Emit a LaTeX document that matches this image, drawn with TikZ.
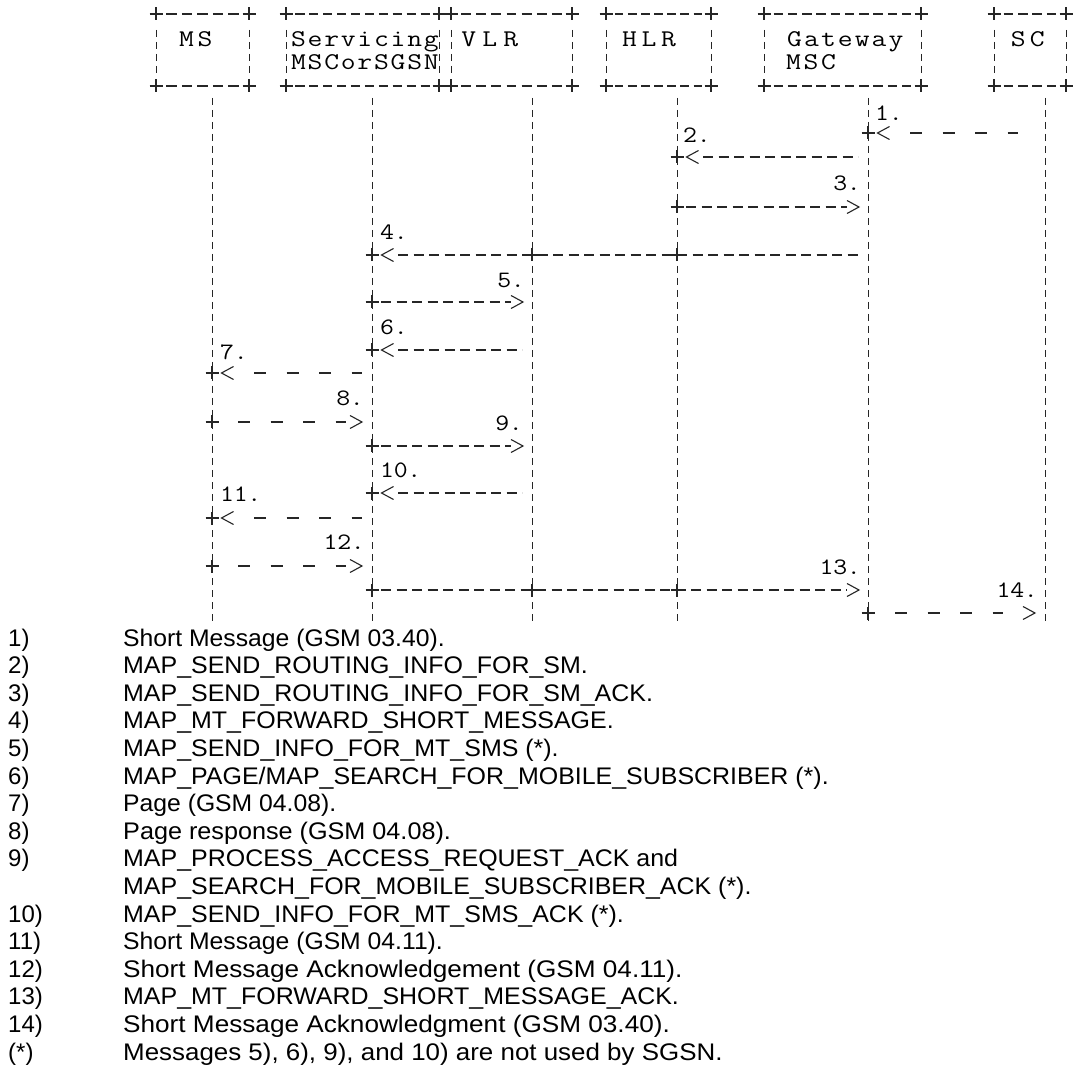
\documentclass[tikz,border=0pt]{standalone}
\usepackage{fontspec}
\setmainfont{Liberation Sans}
\usetikzlibrary{calc}

\makeatletter
\newcommand\spaced[3]{\@tfor\spc@c:=#3\do{\makebox[#1][c]{\scalebox{#2}[1]{\spc@c}}}}
\makeatother

\tikzset{
  ink/.style={draw=black!85, line width=1.1pt},
  life/.style={ink, line width=1.0pt, dash pattern=on 7pt off 5pt},
  hdash/.style={ink, dash pattern=on 10pt off 5.5pt},
  sdash/.style={ink, dash pattern=on 12pt off 20.5pt},
  plusmark/.pic={\draw[ink] (-6.5,0)--(6.5,0) (0,-6.5)--(0,6.5);},
  ltip/.pic={\draw[ink] (12,-6.5)--(0,0)--(12,6.5);},
  rtip/.pic={\draw[ink] (-12,-6.5)--(0,0)--(-12,6.5);},
  boxarea/.style={inner sep=0pt, outer sep=0pt, minimum height=72pt},
  boxlbl/.style={font=\ttfamily\fontsize{24}{24}\selectfont, inner sep=0pt, anchor=base west},
  numlbl/.style={font=\ttfamily\fontsize{23.5}{23.5}\selectfont, inner sep=0pt},
  legfont/.style={font=\fontsize{24}{24}\selectfont, inner sep=0pt, anchor=base west},
}

% ASCII-like box: name, width, number of dashes
\newcommand{\asciibox}[3]{%
  \pgfmathsetmacro\bp{#2/(#3+1)}%
  \pgfmathsetmacro\bd{0.66*\bp}%
  \pgfmathsetmacro\bs{\bp-\bd/2}%
  \pgfmathsetmacro\bg{\bp-\bd}%
  \draw[ink, dash pattern=on \bd pt off \bg pt, shorten <=\bs pt, shorten >=\bs pt] (#1.north west) -- (#1.north east);
  \draw[ink, dash pattern=on \bd pt off \bg pt, shorten <=\bs pt, shorten >=\bs pt] (#1.south west) -- (#1.south east);
  \draw[life, shorten <=16pt, shorten >=13pt] (#1.north west) -- (#1.south west);
  \draw[life, shorten <=16pt, shorten >=13pt] (#1.north east) -- (#1.south east);
  \pic at (#1.north west) {plusmark};
  \pic at (#1.north east) {plusmark};
  \pic at (#1.south west) {plusmark};
  \pic at (#1.south east) {plusmark};
}
\newcommand{\denseL}[2]{%
  \pic at (#1) {plusmark};
  \pic at ($(#1)+(9.5,0)$) {ltip};
  \draw[hdash, shorten <=26pt, shorten >=10pt] (#1) -- (#2);
}
\newcommand{\denseR}[2]{%
  \pic at (#1) {plusmark};
  \pic at ($(#2)+(-9,0)$) {rtip};
  \draw[hdash, shorten <=9pt, shorten >=21pt] (#1) -- (#2);
}
\newcommand{\sparseL}[3]{%
  \pic at (#1) {plusmark};
  \pic at ($(#1)+(9.5,0)$) {ltip};
  \draw[sdash, shorten <=42pt, shorten >=#3pt] (#1) -- (#2);
}
\newcommand{\sparseR}[4]{%
  \pic at (#1) {plusmark};
  \pic at ($(#2)+(-10,0)$) {rtip};
  \draw[sdash, shorten <=#3pt, shorten >=#4pt] (#1) -- (#2);
}
\newcommand{\legline}[4]{%
  \pgfmathsetmacro\ly{646+27.6*(#1-1)}%
  \node[legfont] (leg#1n) at (8,\ly) {#2};
  \node[legfont] (leg#1t) at (123,\ly) {\scalebox{#4}[1]{#3}};
}

\begin{document}
\begin{tikzpicture}[x=1pt, y=-1pt]
\fill[white] (0,0) rectangle (1088,1067);
\useasboundingbox (0,0) rectangle (1088,1067);

% boxes
\node[boxarea, minimum width=93pt]  (ms)  at (202.5,50) {};
\node[boxarea, minimum width=153pt] (sv)  at (362.5,50) {};
\node[boxarea, minimum width=121pt] (vl)  at (511.5,50) {};
\node[boxarea, minimum width=105pt] (hl)  at (658.5,50) {};
\node[boxarea, minimum width=157pt] (gw)  at (842.5,50) {};
\node[boxarea, minimum width=72pt]  (sc)  at (1030,50) {};
\asciibox{ms}{93}{5}
\asciibox{sv}{153}{10}
\asciibox{vl}{121}{7}
\asciibox{hl}{105}{7}
\asciibox{gw}{157}{10}
\asciibox{sc}{72}{4}

\node[boxlbl] (msL)  at (177,47)    {\spaced{18.5pt}{1.2}{MS}};
\node[boxlbl] (svL1) at (290,47)    {\spaced{16.6pt}{1.2}{Servicing}};
\node[boxlbl] (svL2) at (290,70)    {\spaced{16.6pt}{1.2}{MSCorSGSN}};
\node[boxlbl] (vlL)  at (458,47)    {\spaced{21pt}{1.2}{VLR}};
\node[boxlbl] (hlL)  at (619.5,47)  {\spaced{19.5pt}{1.2}{HLR}};
\node[boxlbl] (gwL1) at (786,47)    {\spaced{16.9pt}{1.2}{Gateway}};
\node[boxlbl] (gwL2) at (784.5,70)  {\spaced{17.5pt}{1.2}{MSC}};
\node[boxlbl] (scL)  at (1008.7,47) {\spaced{19pt}{1.2}{SC}};

% lifelines
\foreach \n/\x in {ms/212, sv/372, vl/532, hl/677, gw/868, sc/1045}{
  \coordinate (\n T) at (\x,98);
  \coordinate (\n B) at (\x,625);
  \draw[life] (\n T) -- (\n B);
}

% message rows
\foreach \n/\x in {ms/212, sv/372, vl/532, hl/677, gw/868, sc/1045}{
  \foreach \r/\y in {1/133, 2/157, 3/207, 4/255, 5/302, 6/350, 7/373, 8/422, 9/446, 10/493, 11/518, 12/566, 13/590, 14/613}{
    \coordinate (\n\r) at (\x,\y);
  }
}

\sparseL{gw1}{sc1}{27}
\denseL{hl2}{gw2}
\denseR{hl3}{gw3}
\denseL{sv4}{gw4}
\pic at (vl4) {plusmark};
\pic at (hl4) {plusmark};
\denseR{sv5}{vl5}
\denseL{sv6}{vl6}
\sparseL{ms7}{sv7}{10}
\sparseR{ms8}{sv8}{26}{26}
\denseR{sv9}{vl9}
\denseL{sv10}{vl10}
\sparseL{ms11}{sv11}{10}
\sparseR{ms12}{sv12}{26}{26}
\denseR{sv13}{gw13}
\pic at (vl13) {plusmark};
\pic at (hl13) {plusmark};
\sparseR{gw14}{sc14}{27}{42}

% message numbers
\node[numlbl, anchor=base west] (t1)  at (875,120.5) {\spaced{13.7pt}{1.15}{1.}};
\node[numlbl, anchor=base west] (t2)  at (683,142.5) {\spaced{13.7pt}{1.15}{2.}};
\node[numlbl, anchor=base east] (t3)  at (861,190.5) {\spaced{13.7pt}{1.15}{3.}};
\node[numlbl, anchor=base west] (t4)  at (380,239.5) {\spaced{13.7pt}{1.15}{4.}};
\node[numlbl, anchor=base east] (t5)  at (525,287.5) {\spaced{13.7pt}{1.15}{5.}};
\node[numlbl, anchor=base west] (t6)  at (380,334.5) {\spaced{13.7pt}{1.15}{6.}};
\node[numlbl, anchor=base west] (t7)  at (220,359.5) {\spaced{13.7pt}{1.15}{7.}};
\node[numlbl, anchor=base east] (t8)  at (364,405.5) {\spaced{13.7pt}{1.15}{8.}};
\node[numlbl, anchor=base east] (t9)  at (523,430.5) {\spaced{13.7pt}{1.15}{9.}};
\node[numlbl, anchor=base west] (t10) at (380,477.5) {\spaced{13.7pt}{1.15}{10.}};
\node[numlbl, anchor=base west] (t11) at (220,501.5) {\spaced{13.7pt}{1.15}{11.}};
\node[numlbl, anchor=base east] (t12) at (365,549.5) {\spaced{13.7pt}{1.15}{12.}};
\node[numlbl, anchor=base east] (t13) at (861,574.5) {\spaced{13.7pt}{1.15}{13.}};
\node[numlbl, anchor=base east] (t14) at (1038,597.5) {\spaced{13.7pt}{1.15}{14.}};

% legend
\legline{1}{1)}{Short Message (GSM 03.40).}{1.03}
\legline{2}{2)}{MAP\_SEND\_ROUTING\_INFO\_FOR\_SM.}{1.04}
\legline{3}{3)}{MAP\_SEND\_ROUTING\_INFO\_FOR\_SM\_ACK.}{1.04}
\legline{4}{4)}{MAP\_MT\_FORWARD\_SHORT\_MESSAGE.}{1.04}
\legline{5}{5)}{MAP\_SEND\_INFO\_FOR\_MT\_SMS (*).}{1.04}
\legline{6}{6)}{MAP\_PAGE/MAP\_SEARCH\_FOR\_MOBILE\_SUBSCRIBER (*).}{1.04}
\legline{7}{7)}{Page (GSM 04.08).}{1.03}
\legline{8}{8)}{Page response (GSM 04.08).}{1.05}
\legline{9}{9)}{MAP\_PROCESS\_ACCESS\_REQUEST\_ACK and}{1.04}
\legline{10}{}{MAP\_SEARCH\_FOR\_MOBILE\_SUBSCRIBER\_ACK (*).}{1.04}
\legline{11}{10)}{MAP\_SEND\_INFO\_FOR\_MT\_SMS\_ACK (*).}{1.04}
\legline{12}{11)}{Short Message (GSM 04.11).}{1.03}
\legline{13}{12)}{Short Message Acknowledgement (GSM 04.11).}{1.09}
\legline{14}{13)}{MAP\_MT\_FORWARD\_SHORT\_MESSAGE\_ACK.}{1.04}
\legline{15}{14)}{Short Message Acknowledgment (GSM 03.40).}{1.09}
\legline{16}{(*)}{Messages 5), 6), 9), and 10) are not used by SGSN.}{1.08}
\end{tikzpicture}
\end{document}
